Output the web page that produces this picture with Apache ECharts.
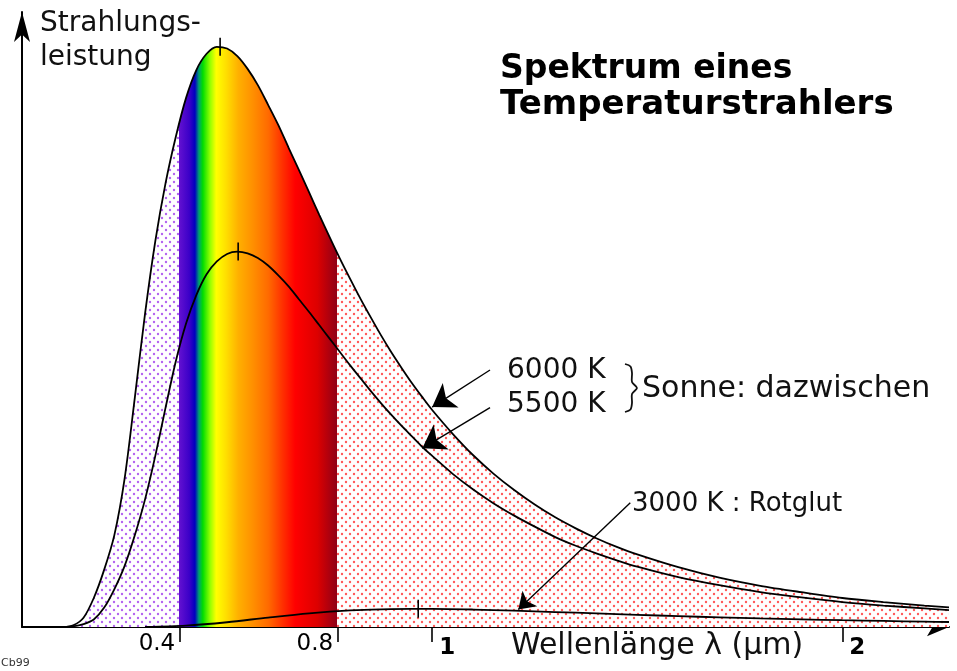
<!DOCTYPE html>
<html>
<head>
<meta charset="utf-8">
<script src="https://cdn.jsdelivr.net/npm/echarts@6/dist/echarts.min.js"></script>
<style>
  html, body { margin: 0; padding: 0; background: #fff; }
  #chart { width: 957px; height: 671px; }
</style>
</head>
<body>
<div id="chart"></div>
<script>
// wavelengths in µm, radiant power relative to the 6000 K peak (= 100)
var lambdaSun = [0.100, 0.125, 0.150, 0.175, 0.200, 0.225, 0.250, 0.275, 0.300, 0.325, 0.350, 0.375, 0.400, 0.425, 0.450, 0.475, 0.500, 0.525, 0.550, 0.575, 0.600, 0.625, 0.650, 0.675, 0.700, 0.725, 0.750, 0.775, 0.800, 0.825, 0.850, 0.875, 0.900, 0.925, 0.950, 0.975, 1.000, 1.05, 1.10, 1.15, 1.20, 1.25, 1.30, 1.35, 1.40, 1.45, 1.50, 1.60, 1.70, 1.80, 1.90, 2.00, 2.10, 2.20, 2.26];
var power6000 = [0, 0.3, 1.6, 5.0, 9.8, 15.8, 25.5, 39.5, 54.0, 66.5, 76.5, 84.5, 91.2, 96.0, 98.8, 100.0, 99.7, 98.4, 96.2, 93.4, 90.0, 86.5, 82.6, 78.8, 74.9, 71.0, 67.2, 63.5, 60.0, 56.6, 53.4, 50.3, 47.4, 44.7, 42.1, 39.7, 37.4, 33.3, 29.6, 26.4, 23.6, 21.1, 18.9, 17.0, 15.3, 13.8, 12.5, 10.3, 8.5, 7.1, 6.0, 5.0, 4.3, 3.7, 3.4];
var power5500 = [0, 0.1, 0.5, 1.3, 3.3, 6.5, 10.5, 15.8, 22.0, 29.5, 37.8, 45.8, 52.3, 57.2, 60.8, 63.0, 64.3, 64.7, 64.4, 63.6, 62.3, 60.6, 58.7, 56.5, 54.3, 52.0, 49.7, 47.4, 45.1, 42.9, 40.7, 38.6, 36.6, 34.7, 32.9, 31.1, 29.5, 26.4, 23.7, 21.3, 19.2, 17.3, 15.5, 14.0, 12.7, 11.5, 10.4, 8.6, 7.2, 6.0, 5.1, 4.3, 3.7, 3.2, 2.9];
var lambda3000 = [0.30, 0.40, 0.50, 0.60, 0.70, 0.80, 0.90, 1.00, 1.10, 1.20, 1.30, 1.40, 1.50, 1.60, 1.70, 1.80, 1.90, 2.00, 2.10, 2.20, 2.26];
var power3000  = [0, 0.23, 0.82, 1.63, 2.36, 2.85, 3.09, 3.12, 3.01, 2.81, 2.58, 2.34, 2.10, 1.87, 1.67, 1.48, 1.32, 1.17, 1.04, 0.92, 0.86];

var peakLambda = [0.483, 0.527, 0.966];
var peakPower = [100, 64.7, 3.15];

// UV | visible | infrared
var bandEdges = [0.385, 0.77];

var tickValues = [0.385, 0.77, 1, 2];
var tickLabels = ['0.4', '0.8', '1', '2'];

// annotation pointers: [from, to] in data units
var pointerFrom = [[1.141, 44.3], [1.141, 37.8], [1.483, 21.4]];
var pointerTo   = [[1.0, 37.9], [0.976, 30.8], [1.21, 3.0]];

var X_MAX = 2.26, Y_MAX = 106;
var W = 957, LEFT = 22, RIGHT = 8;
var PX = (W - LEFT - RIGHT) / X_MAX;

function pairs(xs, ys) {
  var out = [];
  for (var i = 0; i < xs.length; i++) out.push([xs[i], ys[i]]);
  return out;
}

function dots(color) {
  var c = document.createElement('canvas');
  c.width = 8; c.height = 8;
  var g = c.getContext('2d');
  g.fillStyle = '#fff';
  g.fillRect(0, 0, 8, 8);
  g.fillStyle = color;
  g.beginPath(); g.arc(2, 2, 1.2, 0, Math.PI * 2); g.fill();
  g.beginPath(); g.arc(6, 6, 1.2, 0, Math.PI * 2); g.fill();
  return { image: c, repeat: 'repeat' };
}

// one grid per band so the same curve is clipped to each range
function gridFor(a, b) {
  return { left: LEFT + a * PX, right: W - (LEFT + b * PX), top: 12, bottom: 44, outerBoundsMode: 'none' };
}
var ranges = [[0, bandEdges[0]], [bandEdges[0], bandEdges[1]], [bandEdges[1], X_MAX]];

var rainbow = new echarts.graphic.LinearGradient(LEFT + bandEdges[0] * PX, 0, LEFT + bandEdges[1] * PX, 0, [
  { offset: 0.00, color: '#6010d0' },
  { offset: 0.06, color: '#3a00c8' },
  { offset: 0.095, color: '#0000c0' },
  { offset: 0.12, color: '#00a070' },
  { offset: 0.145, color: '#00dd00' },
  { offset: 0.19, color: '#90ff00' },
  { offset: 0.23, color: '#ffff00' },
  { offset: 0.29, color: '#ffe000' },
  { offset: 0.37, color: '#ffb000' },
  { offset: 0.46, color: '#ff9000' },
  { offset: 0.56, color: '#ff6a00' },
  { offset: 0.65, color: '#ff3000' },
  { offset: 0.73, color: '#ff0000' },
  { offset: 0.87, color: '#dd0000' },
  { offset: 1.00, color: '#8c0018' }
], true);
var bandFills = [dots('#b464f0'), rainbow, dots('#ff5a5a')];

var font = '"DejaVu Sans", sans-serif';
var SMOOTH = 0.3;
var curve6000 = pairs(lambdaSun, power6000);

function curveSeries(data, i, extra) {
  var s = {
    type: 'line', data: data, smooth: SMOOTH, symbol: 'none', silent: true, z: 3,
    lineStyle: { color: '#000', width: 1.8 },
    markPoint: {
      symbol: 'rect', symbolSize: [1.6, 18], silent: true,
      itemStyle: { color: '#000' }, label: { show: false },
      data: [{ coord: [peakLambda[i], peakPower[i]] }]
    }
  };
  if (extra) s.markLine = extra;
  return s;
}

var arrowSizes = [22, 22, 16];
var pointerLines = {
  silent: true, animation: false,
  label: { show: false },
  lineStyle: { color: '#000', width: 1.4, type: 'solid' },
  data: pointerFrom.map(function(f, i) {
    return [
      { coord: f, symbol: 'none' },
      { coord: pointerTo[i], symbol: 'arrow', symbolSize: arrowSizes[i] }
    ];
  })
};

var grids = [gridFor(0, X_MAX)].concat(ranges.map(function(r) { return gridFor(r[0], r[1]); }));
var xAxes = [{
  type: 'value', gridIndex: 0, min: 0, max: X_MAX,
  splitLine: { show: false },
  axisLine: { lineStyle: { color: '#000', width: 2 }, symbol: ['none', 'arrow'], symbolSize: [14, 22] },
  axisTick: { show: true, customValues: tickValues, length: 15, lineStyle: { color: '#000', width: 1.6 } },
  axisLabel: {
    customValues: tickValues, margin: 6, color: '#000', fontFamily: font, fontSize: 23,
    formatter: function(v) {
      var best = 0;
      for (var i = 1; i < tickValues.length; i++) {
        if (Math.abs(tickValues[i] - v) < Math.abs(tickValues[best] - v)) best = i;
      }
      return (best < 2 ? '{l|' : '{r|') + tickLabels[best] + '}';
    },
    rich: {
      l: { fontFamily: font, fontSize: 23, color: '#000', padding: [0, 46, 0, 0] },
      r: { fontFamily: font, fontSize: 23, fontWeight: 'bold', color: '#000', padding: [4, 0, 0, 30] }
    }
  }
}];
var yAxes = [{
  type: 'value', gridIndex: 0, min: 0, max: Y_MAX,
  splitLine: { show: false },
  axisTick: { show: false },
  axisLabel: { show: false },
  axisLine: { show: true, lineStyle: { color: '#000', width: 2 }, symbol: ['none', 'arrow'], symbolSize: [12, 30] },
  z: 5
}];
var series = [];
ranges.forEach(function(r, k) {
  xAxes.push({ type: 'value', gridIndex: k + 1, min: r[0], max: r[1], show: false });
  yAxes.push({ type: 'value', gridIndex: k + 1, min: 0, max: Y_MAX, show: false });
  series.push({
    type: 'line', xAxisIndex: k + 1, yAxisIndex: k + 1, data: curve6000, smooth: SMOOTH,
    symbol: 'none', silent: true, clip: true, z: 1,
    lineStyle: { width: 0, opacity: 0 },
    areaStyle: { color: bandFills[k], opacity: 1 }
  });
});
series.push(curveSeries(curve6000, 0, pointerLines));
series.push(curveSeries(pairs(lambdaSun, power5500), 1));
series.push(curveSeries(pairs(lambda3000, power3000), 2));

var chart = echarts.init(document.getElementById('chart'));
chart.setOption({
  animation: false,
  backgroundColor: '#fff',
  grid: grids,
  xAxis: xAxes,
  yAxis: yAxes,
  series: series,
  graphic: [
    { type: 'text', x: 40, y: 24, style: { text: 'Strahlungs-', font: '28px ' + font, fill: '#111', textVerticalAlign: 'middle' } },
    { type: 'text', x: 40, y: 58, style: { text: 'leistung', font: '28px ' + font, fill: '#111', textVerticalAlign: 'middle' } },
    { type: 'text', x: 500, y: 69, style: { text: 'Spektrum eines', font: 'bold 33px ' + font, fill: '#000', textVerticalAlign: 'middle' } },
    { type: 'text', x: 500, y: 105, style: { text: 'Temperaturstrahlers', font: 'bold 34px ' + font, fill: '#000', textVerticalAlign: 'middle' } },
    { type: 'text', x: 507, y: 371, style: { text: '6000 K', font: '28px ' + font, fill: '#111', textVerticalAlign: 'middle' } },
    { type: 'text', x: 507, y: 405, style: { text: '5500 K', font: '28px ' + font, fill: '#111', textVerticalAlign: 'middle' } },
    { type: 'polyline', shape: { points: [[625, 364], [630.5, 366.5], [632, 373], [632, 382], [637, 388], [632, 394], [632, 403], [630.5, 409.5], [625, 412]], smooth: 0.3 },
      style: { stroke: '#111', lineWidth: 1.8, fill: null } },
    { type: 'text', x: 642, y: 389, style: { text: 'Sonne: dazwischen', font: '30px ' + font, fill: '#111', textVerticalAlign: 'middle' } },
    { type: 'text', x: 632, y: 504, style: { text: '3000 K : Rotglut', font: '26px ' + font, fill: '#111', textVerticalAlign: 'middle' } },
    { type: 'text', x: 117, y: 562, style: { text: 'UV', font: 'bold 34px ' + font, fill: '#000', textVerticalAlign: 'middle' } },
    { type: 'text', x: 397, y: 553, style: { text: 'infrarot', font: 'bold 29px ' + font, fill: '#000', textVerticalAlign: 'middle' } },
    { type: 'text', x: 511, y: 646, style: { text: 'Wellenlänge λ (µm)', font: '30px ' + font, fill: '#111', textVerticalAlign: 'middle' } },
    { type: 'text', x: 1, y: 663, style: { text: 'Cb99', font: '11px ' + font, fill: '#333', textVerticalAlign: 'middle' } }
  ]
});
</script>
</body>
</html>
